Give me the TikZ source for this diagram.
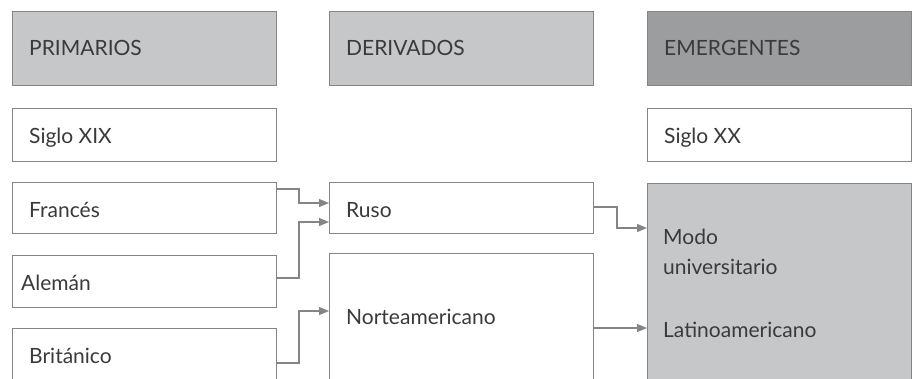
\documentclass[tikz,border=0pt]{standalone}
\usepackage{fontspec}
\setmainfont{Lato}
\usetikzlibrary{arrows.meta}
\definecolor{hdrlight}{HTML}{C6C7C9}
\definecolor{hdrdark}{HTML}{9C9D9F}
\definecolor{edge}{HTML}{858585}
\definecolor{ink}{HTML}{3A3A3A}
\begin{document}
\begin{tikzpicture}[x=1pt,y=-1pt,
  box/.style={draw=edge,line width=1.2pt,rectangle,inner sep=0pt,anchor=north west,minimum width=264pt},
  txt/.style={anchor=base west,inner sep=0pt,text=ink,font=\fontsize{21}{24}\selectfont},
  conn/.style={draw=edge,line width=1.2pt,-{Triangle[length=10pt,width=8pt]}}]
\useasboundingbox (0,0) rectangle (914,378);
\clip (0,0) rectangle (914,378);
% headers
\node[box,fill=hdrlight,minimum height=74pt] (hp) at (12,11) {};
\node[box,fill=hdrlight,minimum height=74pt] (hd) at (329,11) {};
\node[box,fill=hdrdark,minimum height=74pt] (he) at (647,11) {};
\node[txt] (thp) at (29,55) {PRIMARIOS};
\node[txt] (thd) at (346,55) {DERIVADOS};
\node[txt] (the) at (664,55) {EMERGENTES};
% siglo
\node[box,fill=white,minimum height=53pt] (s19) at (12,108) {};
\node[box,fill=white,minimum height=53pt] (s20) at (647,108) {};
\node[txt] (ts19) at (29,143) {Siglo XIX};
\node[txt] (ts20) at (664,143) {Siglo XX};
% primarios
\node[box,fill=white,minimum height=51pt] (fr) at (12,182) {};
\node[box,fill=white,minimum height=52pt] (al) at (12,255) {};
\node[box,fill=white,minimum height=80pt] (br) at (12,328) {};
\node[txt] (tfr) at (29,217) {Francés};
\node[txt] (tal) at (21,290) {Alemán};
\node[txt] (tbr) at (29,363) {Británico};
% derivados
\node[box,fill=white,minimum height=51pt] (ru) at (329,182) {};
\node[box,fill=white,minimum height=160pt] (na) at (329,253) {};
\node[txt] (tru) at (346,217) {Ruso};
\node[txt] (tna) at (346,324) {Norteamericano};
% emergentes
\node[box,fill=hdrlight,minimum height=230pt] (em) at (647,183) {};
\node[txt] (tm1) at (663,244) {Modo};
\node[txt] (tm2) at (663,274) {universitario};
\node[txt] (tla) at (663,337) {Latinoamericano};
% connectors
\draw[conn] (fr.east |- 0,189) -| (299,203) -- (ru.west |- 0,203);
\draw[conn] (al.east |- 0,278) -| (299,222) -- (ru.west |- 0,222);
\draw[conn] (br.east |- 0,363) -| (299,311) -- (na.west |- 0,311);
\draw[conn] (ru.east |- 0,207) -| (617,228) -- (em.west |- 0,228);
\draw[conn] (na.east |- 0,328) -- (em.west |- 0,328);
\end{tikzpicture}
\end{document}
